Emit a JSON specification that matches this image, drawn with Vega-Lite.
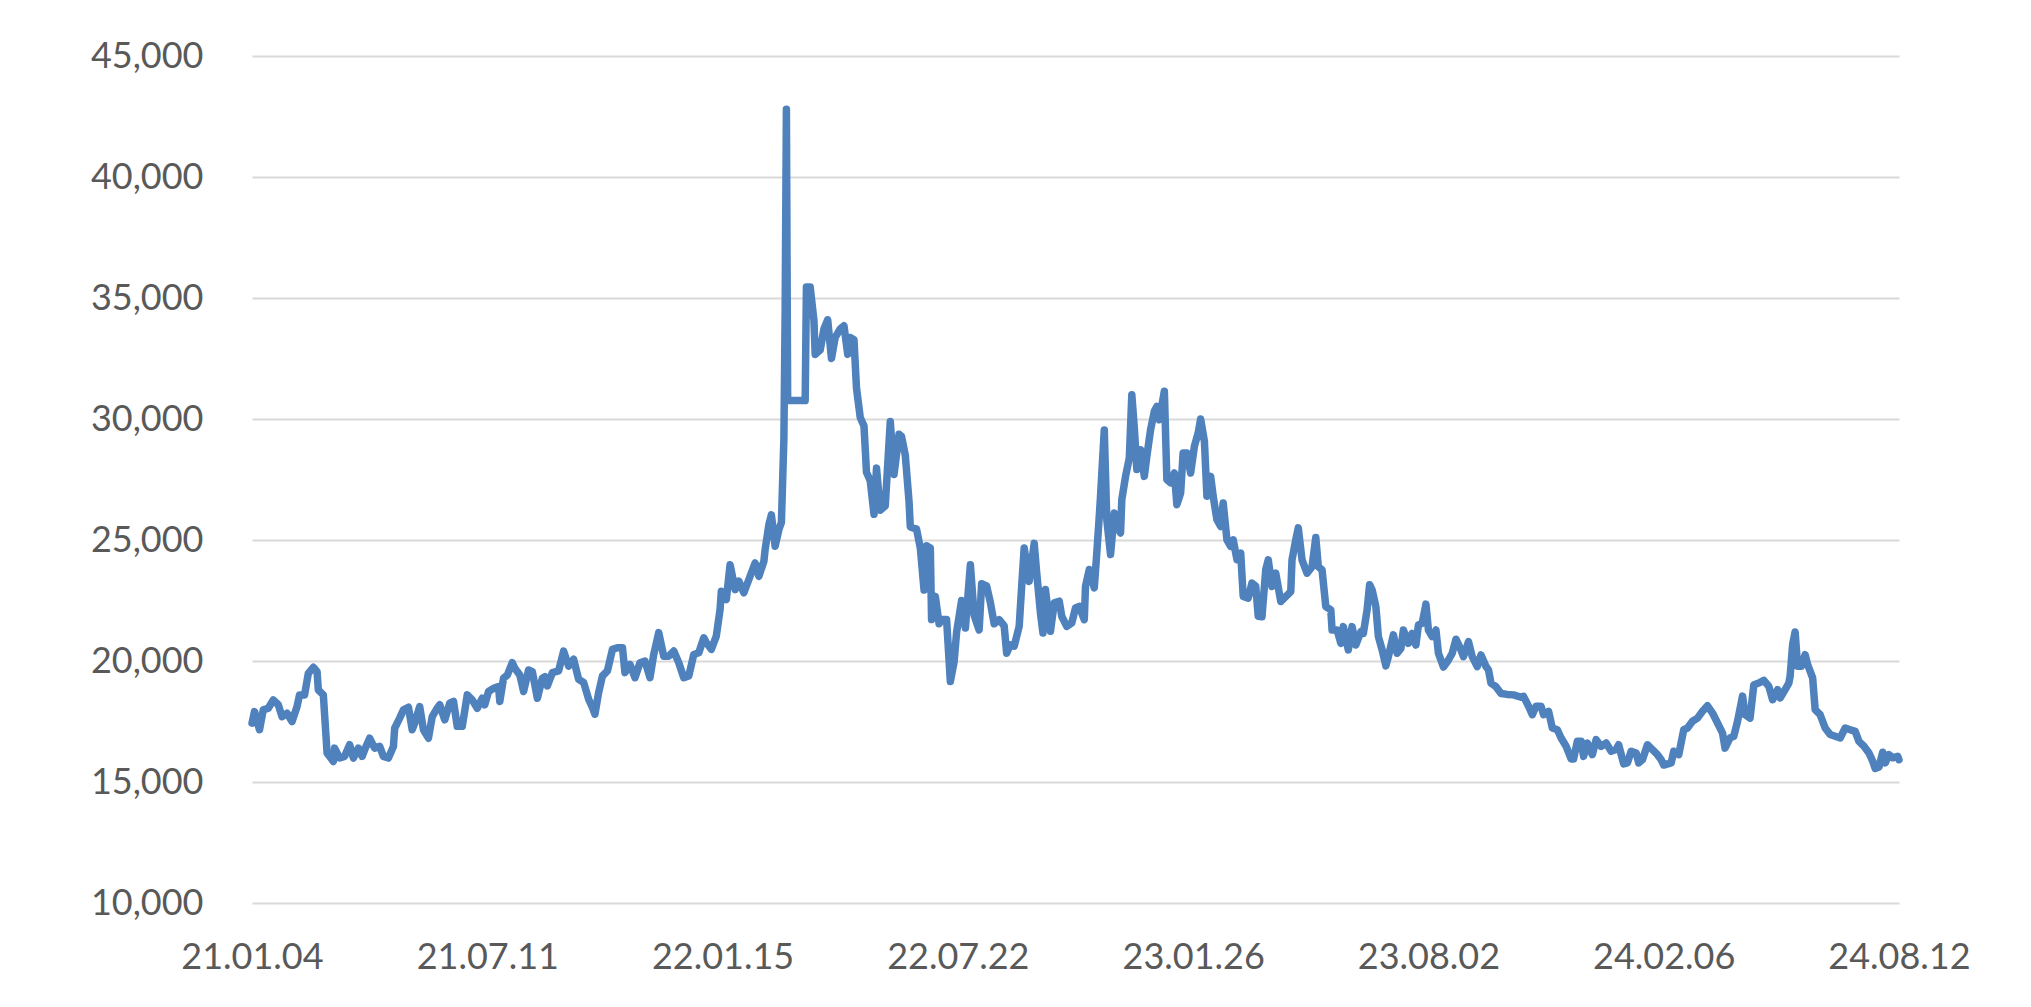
{
  "$schema": "https://vega.github.io/schema/vega-lite/v6.json",
  "width": 1647,
  "height": 847,
  "autosize": {"type": "none"},
  "padding": {"left": 252, "top": 56, "right": 132, "bottom": 104},
  "background": "#ffffff",
  "config": {
    "view": {"stroke": null},
    "axis": {
      "labelFont": "Lato",
      "labelFontSize": 36,
      "labelColor": "#595959",
      "domain": false,
      "ticks": false,
      "gridColor": "#d9d9d9",
      "gridWidth": 2
    }
  },
  "data": {
    "values": [
      {"date": "2021-01-04", "value": 17430},
      {"date": "2021-01-06", "value": 17910},
      {"date": "2021-01-10", "value": 17160},
      {"date": "2021-01-13", "value": 17980},
      {"date": "2021-01-17", "value": 18050},
      {"date": "2021-01-21", "value": 18390},
      {"date": "2021-01-25", "value": 18190},
      {"date": "2021-01-28", "value": 17700},
      {"date": "2021-02-01", "value": 17840},
      {"date": "2021-02-05", "value": 17500},
      {"date": "2021-02-09", "value": 18120},
      {"date": "2021-02-11", "value": 18600},
      {"date": "2021-02-15", "value": 18600},
      {"date": "2021-02-18", "value": 19490},
      {"date": "2021-02-22", "value": 19740},
      {"date": "2021-02-25", "value": 19560},
      {"date": "2021-02-26", "value": 18800},
      {"date": "2021-03-02", "value": 18600},
      {"date": "2021-03-05", "value": 16190},
      {"date": "2021-03-07", "value": 16060},
      {"date": "2021-03-10", "value": 15850},
      {"date": "2021-03-11", "value": 16400},
      {"date": "2021-03-15", "value": 15990},
      {"date": "2021-03-19", "value": 16060},
      {"date": "2021-03-23", "value": 16540},
      {"date": "2021-03-26", "value": 15990},
      {"date": "2021-03-30", "value": 16400},
      {"date": "2021-04-02", "value": 16060},
      {"date": "2021-04-04", "value": 16330},
      {"date": "2021-04-08", "value": 16810},
      {"date": "2021-04-12", "value": 16400},
      {"date": "2021-04-16", "value": 16470},
      {"date": "2021-04-19", "value": 16060},
      {"date": "2021-04-23", "value": 15990},
      {"date": "2021-04-27", "value": 16470},
      {"date": "2021-04-28", "value": 17220},
      {"date": "2021-05-02", "value": 17640},
      {"date": "2021-05-05", "value": 17980},
      {"date": "2021-05-09", "value": 18090},
      {"date": "2021-05-12", "value": 17160},
      {"date": "2021-05-14", "value": 17430},
      {"date": "2021-05-18", "value": 18120},
      {"date": "2021-05-21", "value": 17160},
      {"date": "2021-05-25", "value": 16810},
      {"date": "2021-05-28", "value": 17700},
      {"date": "2021-06-01", "value": 18050},
      {"date": "2021-06-03", "value": 18190},
      {"date": "2021-06-07", "value": 17570},
      {"date": "2021-06-11", "value": 18260},
      {"date": "2021-06-14", "value": 18330},
      {"date": "2021-06-17", "value": 17300},
      {"date": "2021-06-21", "value": 17300},
      {"date": "2021-06-25", "value": 18600},
      {"date": "2021-06-29", "value": 18390},
      {"date": "2021-07-03", "value": 18050},
      {"date": "2021-07-07", "value": 18460},
      {"date": "2021-07-09", "value": 18190},
      {"date": "2021-07-12", "value": 18740},
      {"date": "2021-07-16", "value": 18870},
      {"date": "2021-07-20", "value": 18940},
      {"date": "2021-07-21", "value": 18330},
      {"date": "2021-07-24", "value": 19290},
      {"date": "2021-07-27", "value": 19420},
      {"date": "2021-07-31", "value": 19930},
      {"date": "2021-08-02", "value": 19700},
      {"date": "2021-08-06", "value": 19420},
      {"date": "2021-08-09", "value": 18740},
      {"date": "2021-08-13", "value": 19630},
      {"date": "2021-08-16", "value": 19560},
      {"date": "2021-08-20", "value": 18460},
      {"date": "2021-08-24", "value": 19290},
      {"date": "2021-08-26", "value": 19350},
      {"date": "2021-08-28", "value": 18970},
      {"date": "2021-09-01", "value": 19520},
      {"date": "2021-09-06", "value": 19590},
      {"date": "2021-09-10", "value": 20410},
      {"date": "2021-09-14", "value": 19790},
      {"date": "2021-09-18", "value": 20070},
      {"date": "2021-09-22", "value": 19240},
      {"date": "2021-09-26", "value": 19110},
      {"date": "2021-09-30", "value": 18420},
      {"date": "2021-10-03", "value": 18080},
      {"date": "2021-10-05", "value": 17800},
      {"date": "2021-10-08", "value": 18700},
      {"date": "2021-10-11", "value": 19380},
      {"date": "2021-10-15", "value": 19590},
      {"date": "2021-10-19", "value": 20480},
      {"date": "2021-10-23", "value": 20550},
      {"date": "2021-10-27", "value": 20550},
      {"date": "2021-10-29", "value": 19520},
      {"date": "2021-11-02", "value": 19860},
      {"date": "2021-11-06", "value": 19310},
      {"date": "2021-11-10", "value": 19930},
      {"date": "2021-11-14", "value": 20000},
      {"date": "2021-11-18", "value": 19310},
      {"date": "2021-11-21", "value": 20270},
      {"date": "2021-11-25", "value": 21170},
      {"date": "2021-11-29", "value": 20200},
      {"date": "2021-12-03", "value": 20200},
      {"date": "2021-12-07", "value": 20410},
      {"date": "2021-12-11", "value": 19930},
      {"date": "2021-12-15", "value": 19310},
      {"date": "2021-12-19", "value": 19380},
      {"date": "2021-12-23", "value": 20270},
      {"date": "2021-12-27", "value": 20340},
      {"date": "2021-12-31", "value": 20960},
      {"date": "2022-01-02", "value": 20760},
      {"date": "2022-01-06", "value": 20480},
      {"date": "2022-01-10", "value": 21030},
      {"date": "2022-01-13", "value": 22130},
      {"date": "2022-01-14", "value": 22880},
      {"date": "2022-01-18", "value": 22540},
      {"date": "2022-01-21", "value": 23980},
      {"date": "2022-01-25", "value": 22950},
      {"date": "2022-01-28", "value": 23300},
      {"date": "2022-02-01", "value": 22820},
      {"date": "2022-02-05", "value": 23370},
      {"date": "2022-02-10", "value": 24050},
      {"date": "2022-02-13", "value": 23500},
      {"date": "2022-02-17", "value": 24120},
      {"date": "2022-02-18", "value": 24600},
      {"date": "2022-02-21", "value": 25630},
      {"date": "2022-02-23", "value": 26040},
      {"date": "2022-02-26", "value": 24740},
      {"date": "2022-03-01", "value": 25430},
      {"date": "2022-03-03", "value": 25720},
      {"date": "2022-03-05", "value": 29200},
      {"date": "2022-03-06", "value": 34420},
      {"date": "2022-03-07", "value": 42800},
      {"date": "2022-03-08", "value": 30760},
      {"date": "2022-03-22", "value": 30760},
      {"date": "2022-03-23", "value": 35450},
      {"date": "2022-03-26", "value": 35450},
      {"date": "2022-03-29", "value": 34070},
      {"date": "2022-03-30", "value": 32670},
      {"date": "2022-04-03", "value": 32850},
      {"date": "2022-04-06", "value": 33720},
      {"date": "2022-04-09", "value": 34100},
      {"date": "2022-04-12", "value": 32500},
      {"date": "2022-04-15", "value": 33370},
      {"date": "2022-04-19", "value": 33720},
      {"date": "2022-04-22", "value": 33850},
      {"date": "2022-04-25", "value": 32670},
      {"date": "2022-04-27", "value": 33370},
      {"date": "2022-04-30", "value": 33280},
      {"date": "2022-05-02", "value": 31280},
      {"date": "2022-05-05", "value": 30060},
      {"date": "2022-05-08", "value": 29710},
      {"date": "2022-05-10", "value": 27800},
      {"date": "2022-05-13", "value": 27450},
      {"date": "2022-05-16", "value": 26060},
      {"date": "2022-05-18", "value": 27970},
      {"date": "2022-05-21", "value": 26230},
      {"date": "2022-05-25", "value": 26410},
      {"date": "2022-05-29", "value": 29900},
      {"date": "2022-06-01", "value": 27710},
      {"date": "2022-06-05", "value": 29370},
      {"date": "2022-06-07", "value": 29280},
      {"date": "2022-06-10", "value": 28500},
      {"date": "2022-06-13", "value": 26580},
      {"date": "2022-06-14", "value": 25540},
      {"date": "2022-06-19", "value": 25450},
      {"date": "2022-06-22", "value": 24670},
      {"date": "2022-06-25", "value": 22930},
      {"date": "2022-06-27", "value": 24760},
      {"date": "2022-06-30", "value": 24670},
      {"date": "2022-07-01", "value": 21710},
      {"date": "2022-07-04", "value": 22670},
      {"date": "2022-07-07", "value": 21540},
      {"date": "2022-07-09", "value": 21710},
      {"date": "2022-07-13", "value": 21710},
      {"date": "2022-07-16", "value": 19150},
      {"date": "2022-07-19", "value": 19970},
      {"date": "2022-07-21", "value": 21190},
      {"date": "2022-07-25", "value": 22500},
      {"date": "2022-07-28", "value": 21360},
      {"date": "2022-08-01", "value": 23980},
      {"date": "2022-08-04", "value": 21890},
      {"date": "2022-08-08", "value": 21280},
      {"date": "2022-08-10", "value": 23190},
      {"date": "2022-08-14", "value": 23100},
      {"date": "2022-08-17", "value": 22410},
      {"date": "2022-08-20", "value": 21540},
      {"date": "2022-08-24", "value": 21710},
      {"date": "2022-08-28", "value": 21450},
      {"date": "2022-08-30", "value": 20320},
      {"date": "2022-09-02", "value": 20670},
      {"date": "2022-09-05", "value": 20610},
      {"date": "2022-09-09", "value": 21430},
      {"date": "2022-09-11", "value": 23090},
      {"date": "2022-09-13", "value": 24670},
      {"date": "2022-09-17", "value": 23290},
      {"date": "2022-09-21", "value": 24860},
      {"date": "2022-09-23", "value": 23640},
      {"date": "2022-09-26", "value": 21980},
      {"date": "2022-09-28", "value": 21160},
      {"date": "2022-09-30", "value": 22950},
      {"date": "2022-10-04", "value": 21230},
      {"date": "2022-10-07", "value": 22400},
      {"date": "2022-10-11", "value": 22470},
      {"date": "2022-10-13", "value": 21850},
      {"date": "2022-10-17", "value": 21430},
      {"date": "2022-10-21", "value": 21570},
      {"date": "2022-10-24", "value": 22190},
      {"date": "2022-10-27", "value": 22260},
      {"date": "2022-10-31", "value": 21710},
      {"date": "2022-11-01", "value": 23090},
      {"date": "2022-11-04", "value": 23780},
      {"date": "2022-11-08", "value": 23020},
      {"date": "2022-11-10", "value": 24460},
      {"date": "2022-11-12", "value": 25980},
      {"date": "2022-11-13", "value": 26810},
      {"date": "2022-11-16", "value": 29550},
      {"date": "2022-11-18", "value": 25840},
      {"date": "2022-11-21", "value": 24400},
      {"date": "2022-11-24", "value": 26120},
      {"date": "2022-11-26", "value": 25570},
      {"date": "2022-11-29", "value": 25290},
      {"date": "2022-11-30", "value": 26670},
      {"date": "2022-12-03", "value": 27630},
      {"date": "2022-12-06", "value": 28390},
      {"date": "2022-12-08", "value": 31000},
      {"date": "2022-12-10", "value": 29630},
      {"date": "2022-12-12", "value": 27910},
      {"date": "2022-12-15", "value": 28730},
      {"date": "2022-12-18", "value": 27630},
      {"date": "2022-12-20", "value": 28460},
      {"date": "2022-12-23", "value": 29560},
      {"date": "2022-12-26", "value": 30320},
      {"date": "2022-12-28", "value": 30520},
      {"date": "2022-12-30", "value": 29970},
      {"date": "2023-01-03", "value": 31150},
      {"date": "2023-01-05", "value": 27490},
      {"date": "2023-01-08", "value": 27360},
      {"date": "2023-01-11", "value": 27770},
      {"date": "2023-01-13", "value": 26460},
      {"date": "2023-01-16", "value": 26940},
      {"date": "2023-01-18", "value": 28600},
      {"date": "2023-01-21", "value": 28600},
      {"date": "2023-01-24", "value": 27770},
      {"date": "2023-01-27", "value": 28870},
      {"date": "2023-01-30", "value": 29420},
      {"date": "2023-02-01", "value": 30000},
      {"date": "2023-02-04", "value": 29080},
      {"date": "2023-02-06", "value": 26810},
      {"date": "2023-02-09", "value": 27630},
      {"date": "2023-02-11", "value": 26810},
      {"date": "2023-02-14", "value": 25840},
      {"date": "2023-02-17", "value": 25560},
      {"date": "2023-02-19", "value": 26530},
      {"date": "2023-02-22", "value": 25010},
      {"date": "2023-02-25", "value": 24740},
      {"date": "2023-02-27", "value": 25010},
      {"date": "2023-03-02", "value": 24190},
      {"date": "2023-03-05", "value": 24460},
      {"date": "2023-03-07", "value": 22670},
      {"date": "2023-03-11", "value": 22600},
      {"date": "2023-03-14", "value": 23220},
      {"date": "2023-03-17", "value": 23090},
      {"date": "2023-03-19", "value": 21850},
      {"date": "2023-03-22", "value": 21830},
      {"date": "2023-03-25", "value": 23770},
      {"date": "2023-03-27", "value": 24180},
      {"date": "2023-03-30", "value": 23080},
      {"date": "2023-04-02", "value": 23630},
      {"date": "2023-04-06", "value": 22460},
      {"date": "2023-04-10", "value": 22660},
      {"date": "2023-04-14", "value": 22870},
      {"date": "2023-04-15", "value": 24180},
      {"date": "2023-04-18", "value": 25010},
      {"date": "2023-04-20", "value": 25500},
      {"date": "2023-04-23", "value": 24180},
      {"date": "2023-04-27", "value": 23630},
      {"date": "2023-05-01", "value": 23900},
      {"date": "2023-05-04", "value": 25100},
      {"date": "2023-05-06", "value": 23900},
      {"date": "2023-05-09", "value": 23770},
      {"date": "2023-05-12", "value": 22250},
      {"date": "2023-05-16", "value": 22110},
      {"date": "2023-05-17", "value": 21280},
      {"date": "2023-05-21", "value": 21280},
      {"date": "2023-05-24", "value": 20730},
      {"date": "2023-05-26", "value": 21420},
      {"date": "2023-05-30", "value": 20460},
      {"date": "2023-06-02", "value": 21420},
      {"date": "2023-06-05", "value": 20660},
      {"date": "2023-06-09", "value": 21210},
      {"date": "2023-06-11", "value": 21140},
      {"date": "2023-06-14", "value": 22110},
      {"date": "2023-06-16", "value": 23150},
      {"date": "2023-06-18", "value": 22940},
      {"date": "2023-06-21", "value": 22250},
      {"date": "2023-06-23", "value": 21010},
      {"date": "2023-06-26", "value": 20460},
      {"date": "2023-06-29", "value": 19800},
      {"date": "2023-07-01", "value": 20180},
      {"date": "2023-07-05", "value": 21080},
      {"date": "2023-07-08", "value": 20320},
      {"date": "2023-07-11", "value": 20520},
      {"date": "2023-07-13", "value": 21280},
      {"date": "2023-07-17", "value": 20730},
      {"date": "2023-07-20", "value": 21140},
      {"date": "2023-07-23", "value": 20660},
      {"date": "2023-07-25", "value": 21490},
      {"date": "2023-07-28", "value": 21560},
      {"date": "2023-07-31", "value": 22350},
      {"date": "2023-08-02", "value": 21280},
      {"date": "2023-08-05", "value": 21010},
      {"date": "2023-08-08", "value": 21280},
      {"date": "2023-08-10", "value": 20320},
      {"date": "2023-08-14", "value": 19750},
      {"date": "2023-08-18", "value": 20040},
      {"date": "2023-08-21", "value": 20320},
      {"date": "2023-08-24", "value": 20900},
      {"date": "2023-08-28", "value": 20460},
      {"date": "2023-08-30", "value": 20180},
      {"date": "2023-09-03", "value": 20800},
      {"date": "2023-09-06", "value": 20180},
      {"date": "2023-09-10", "value": 19770},
      {"date": "2023-09-13", "value": 20250},
      {"date": "2023-09-17", "value": 19770},
      {"date": "2023-09-19", "value": 19630},
      {"date": "2023-09-21", "value": 19080},
      {"date": "2023-09-25", "value": 18940},
      {"date": "2023-09-29", "value": 18660},
      {"date": "2023-10-04", "value": 18620},
      {"date": "2023-10-09", "value": 18600},
      {"date": "2023-10-15", "value": 18500},
      {"date": "2023-10-17", "value": 18540},
      {"date": "2023-10-21", "value": 18130},
      {"date": "2023-10-24", "value": 17780},
      {"date": "2023-10-27", "value": 18130},
      {"date": "2023-10-31", "value": 18130},
      {"date": "2023-11-02", "value": 17780},
      {"date": "2023-11-06", "value": 17920},
      {"date": "2023-11-09", "value": 17230},
      {"date": "2023-11-13", "value": 17160},
      {"date": "2023-11-16", "value": 16820},
      {"date": "2023-11-20", "value": 16480},
      {"date": "2023-11-24", "value": 15950},
      {"date": "2023-11-26", "value": 15950},
      {"date": "2023-11-29", "value": 16680},
      {"date": "2023-12-02", "value": 16680},
      {"date": "2023-12-04", "value": 16060},
      {"date": "2023-12-07", "value": 16610},
      {"date": "2023-12-11", "value": 16130},
      {"date": "2023-12-14", "value": 16750},
      {"date": "2023-12-18", "value": 16470},
      {"date": "2023-12-22", "value": 16610},
      {"date": "2023-12-26", "value": 16270},
      {"date": "2023-12-30", "value": 16340},
      {"date": "2024-01-01", "value": 16540},
      {"date": "2024-01-05", "value": 15750},
      {"date": "2024-01-08", "value": 15790},
      {"date": "2024-01-11", "value": 16270},
      {"date": "2024-01-15", "value": 16200},
      {"date": "2024-01-17", "value": 15790},
      {"date": "2024-01-20", "value": 15920},
      {"date": "2024-01-24", "value": 16540},
      {"date": "2024-01-28", "value": 16340},
      {"date": "2024-02-01", "value": 16130},
      {"date": "2024-02-04", "value": 15920},
      {"date": "2024-02-06", "value": 15700},
      {"date": "2024-02-12", "value": 15790},
      {"date": "2024-02-14", "value": 16270},
      {"date": "2024-02-18", "value": 16130},
      {"date": "2024-02-22", "value": 17160},
      {"date": "2024-02-25", "value": 17230},
      {"date": "2024-02-29", "value": 17510},
      {"date": "2024-03-04", "value": 17640},
      {"date": "2024-03-08", "value": 17920},
      {"date": "2024-03-12", "value": 18150},
      {"date": "2024-03-16", "value": 17850},
      {"date": "2024-03-20", "value": 17440},
      {"date": "2024-03-24", "value": 17020},
      {"date": "2024-03-26", "value": 16400},
      {"date": "2024-03-30", "value": 16820},
      {"date": "2024-04-02", "value": 16890},
      {"date": "2024-04-05", "value": 17510},
      {"date": "2024-04-09", "value": 18550},
      {"date": "2024-04-11", "value": 17780},
      {"date": "2024-04-15", "value": 17640},
      {"date": "2024-04-18", "value": 19020},
      {"date": "2024-04-22", "value": 19090},
      {"date": "2024-04-26", "value": 19200},
      {"date": "2024-04-30", "value": 18950},
      {"date": "2024-05-03", "value": 18400},
      {"date": "2024-05-07", "value": 18820},
      {"date": "2024-05-09", "value": 18470},
      {"date": "2024-05-13", "value": 18820},
      {"date": "2024-05-16", "value": 19090},
      {"date": "2024-05-17", "value": 19370},
      {"date": "2024-05-19", "value": 20680},
      {"date": "2024-05-21", "value": 21200},
      {"date": "2024-05-23", "value": 19780},
      {"date": "2024-05-26", "value": 19780},
      {"date": "2024-05-29", "value": 20260},
      {"date": "2024-05-31", "value": 19850},
      {"date": "2024-06-04", "value": 19300},
      {"date": "2024-06-06", "value": 17990},
      {"date": "2024-06-10", "value": 17780},
      {"date": "2024-06-14", "value": 17230},
      {"date": "2024-06-18", "value": 16960},
      {"date": "2024-06-22", "value": 16890},
      {"date": "2024-06-26", "value": 16820},
      {"date": "2024-06-30", "value": 17230},
      {"date": "2024-07-04", "value": 17160},
      {"date": "2024-07-08", "value": 17090},
      {"date": "2024-07-11", "value": 16680},
      {"date": "2024-07-15", "value": 16480},
      {"date": "2024-07-19", "value": 16200},
      {"date": "2024-07-22", "value": 15860},
      {"date": "2024-07-24", "value": 15560},
      {"date": "2024-07-27", "value": 15620},
      {"date": "2024-07-30", "value": 16230},
      {"date": "2024-08-01", "value": 15790},
      {"date": "2024-08-04", "value": 16130},
      {"date": "2024-08-07", "value": 16000},
      {"date": "2024-08-11", "value": 16060},
      {"date": "2024-08-12", "value": 15920}
    ]
  },
  "mark": {
    "type": "line",
    "color": "#4f81bd",
    "strokeWidth": 7.5,
    "strokeJoin": "round",
    "strokeCap": "round",
    "clip": false
  },
  "encoding": {
    "x": {
      "field": "date",
      "type": "temporal",
      "scale": {
        "type": "utc",
        "domain": [
          {"year": 2021, "month": 1, "date": 4, "utc": true},
          {"year": 2024, "month": 8, "date": 12, "utc": true}
        ],
        "nice": false
      },
      "axis": {
        "title": null,
        "grid": false,
        "labelPadding": 37,
        "labelFlush": false,
        "labelOverlap": false,
        "labelBound": false,
        "values": [
          {"year": 2021, "month": 1, "date": 4, "utc": true},
          {"year": 2021, "month": 7, "date": 11, "utc": true},
          {"year": 2022, "month": 1, "date": 15, "utc": true},
          {"year": 2022, "month": 7, "date": 22, "utc": true},
          {"year": 2023, "month": 1, "date": 26, "utc": true},
          {"year": 2023, "month": 8, "date": 2, "utc": true},
          {"year": 2024, "month": 2, "date": 6, "utc": true},
          {"year": 2024, "month": 8, "date": 12, "utc": true}
        ],
        "labelExpr": "utcFormat(datum.value, '%y.%m.%d')"
      }
    },
    "y": {
      "field": "value",
      "type": "quantitative",
      "scale": {"domain": [10000, 45000], "nice": false, "zero": false},
      "axis": {
        "title": null,
        "grid": true,
        "values": [10000, 15000, 20000, 25000, 30000, 35000, 40000, 45000],
        "format": ",.0f",
        "labelPadding": 49
      }
    }
  }
}
